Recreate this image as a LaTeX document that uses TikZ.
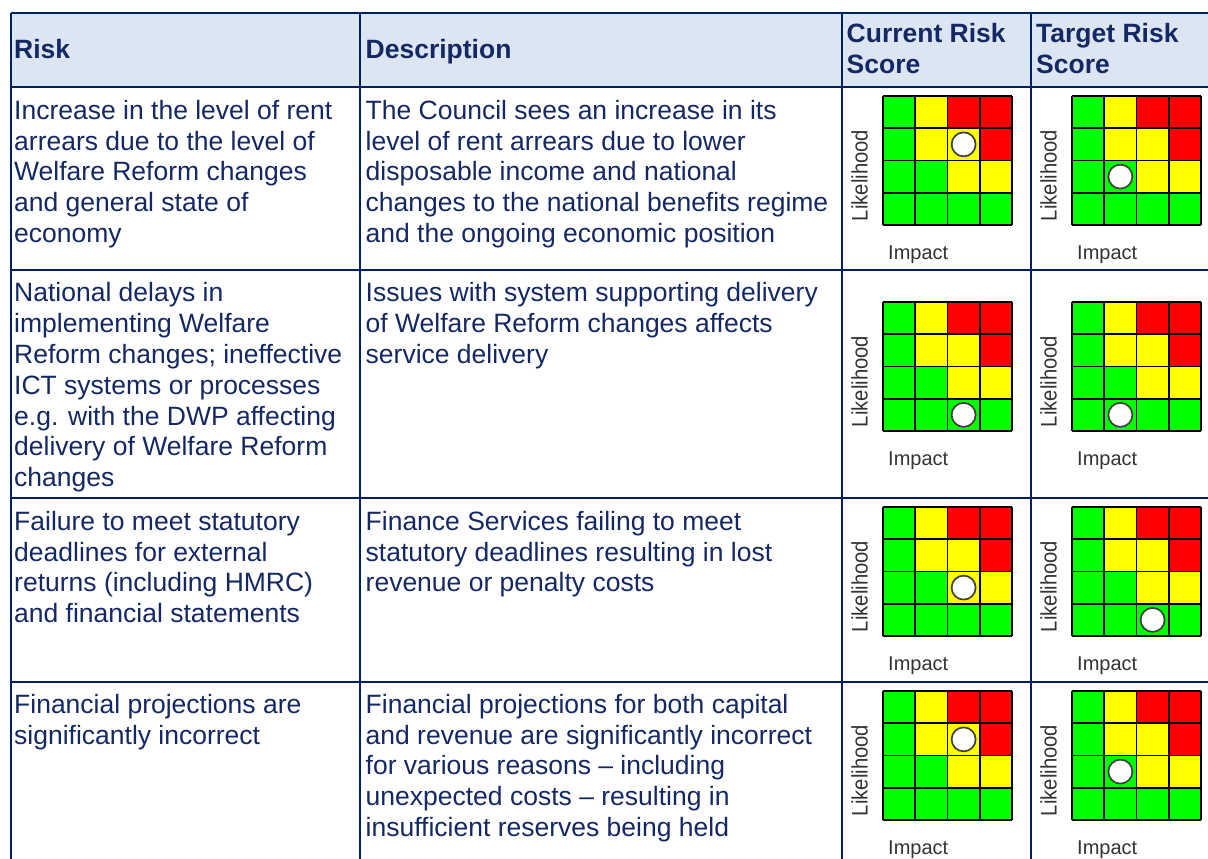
\documentclass[tikz,border=0pt]{standalone}
\usepackage{fontspec}
\setmainfont{Liberation Sans}
\definecolor{navytext}{RGB}{20,40,100}
\definecolor{navyline}{RGB}{0,32,96}
\definecolor{headfill}{RGB}{220,230,242}
\definecolor{riskg}{RGB}{0,255,0}
\definecolor{risky}{RGB}{255,255,0}
\definecolor{riskr}{RGB}{255,0,0}
\newcommand\bodyfont{\fontsize{26.5}{30.8}\selectfont}
\newcommand\headfont{\fontsize{26.5}{31}\selectfont\bfseries}
\newcommand\lblfont{\fontsize{20}{24}\selectfont}
\newcommand\likfont{\fontsize{22.5}{26}\selectfont}
\tikzset{
  txtcell/.style={anchor=north west, inner sep=0pt, align=left, text=navytext, font=\bodyfont},
  headcell/.style={txtcell, font=\headfont},
  lbl/.style={inner sep=0pt, font=\lblfont, text=black!80},
  tblline/.style={draw=navyline, line width=2.8pt},
  gridline/.style={draw=black, line width=1.8pt},
  dot/.style={circle, draw=black!75, fill=white, line width=1.7pt, minimum size=24pt, inner sep=0pt}
}
% name, gx, gy, column of dot, row of dot
\newcommand\riskgrid[5]{%
  \foreach \rr/\cols in {0/{g,y,r,r},1/{g,y,y,r},2/{g,g,y,y},3/{g,g,g,g}}{
    \foreach \clr [count=\ii from 0] in \cols {
      \fill[risk\clr] ({#2+\ii*32.25},{#3+\rr*32.25}) rectangle +(32.25,32.25);
    }
  }
  \foreach \kk in {0,...,4}{
    \draw[gridline] ({#2+\kk*32.25},#3) -- ++(0,129);
    \draw[gridline] (#2,{#3+\kk*32.25}) -- ++(129,0);
  }
  \node[dot] (#1-dot) at ({#2+(#4+0.5)*32.25},{#3+(#5+0.5)*32.25}) {};
  \node[lbl, font=\likfont, rotate=90, anchor=base] (#1-lik) at ({#2-15.5},{#3+79.5}) {\scalebox{0.9}[1]{Likelihood}};
  \node[lbl, anchor=base west] (#1-imp) at ({#2+5},{#3+163}) {Impact};
}
\begin{document}
\begin{tikzpicture}[x=1pt,y=-1pt]
\useasboundingbox (0,0) rectangle (1208,859);
\fill[white] (0,0) rectangle (1208,859);
% header fill
\fill[headfill] (11,13) rectangle (1208,87);
% table lines
\draw[tblline] (11,13) -- (1208,13);
\foreach \yy in {87,270,498,682}{\draw[tblline] (11,\yy) -- (1208,\yy);}
\foreach \xx in {11,360,842,1031}{\draw[tblline] (\xx,13) -- (\xx,859);}
% header
\node[headcell] (hrisk) at (14,37.1) {\strut Risk};
\node[headcell] (hdesc) at (365.5,37.1) {\strut Description};
\node[headcell] (hcur) at (846.5,20.6) {\strut Current Risk\\Score};
\node[headcell] (htgt) at (1036,20.6) {\strut Target Risk\\Score};
% row 1
\node[txtcell] (r1risk) at (14,97.5) {\strut Increase in the level of rent\\arrears due to the level of\\Welfare Reform changes\\and general state of\\economy};
\node[txtcell] (r1desc) at (365.5,97.5) {\strut The Council sees an increase in its\\level of rent arrears due to lower\\disposable income and national\\changes to the national benefits regime\\and the ongoing economic position};
% row 2
\node[txtcell] (r2risk) at (14,280.2) {\strut National delays in\\implementing Welfare\\Reform changes; ineffective\\ICT systems or processes\\e.g. with the DWP affecting\\delivery of Welfare Reform\\changes};
\node[txtcell] (r2desc) at (365.5,280.2) {\strut Issues with system supporting delivery\\of Welfare Reform changes affects\\service delivery};
% row 3
\node[txtcell] (r3risk) at (14,508.5) {\strut Failure to meet statutory\\deadlines for external\\returns (including HMRC)\\and financial statements};
\node[txtcell] (r3desc) at (365.5,508.5) {\strut Finance Services failing to meet\\statutory deadlines resulting in lost\\revenue or penalty costs};
% row 4
\node[txtcell] (r4risk) at (14,691.5) {\strut Financial projections are\\significantly incorrect};
\node[txtcell] (r4desc) at (365.5,691.5) {\strut Financial projections for both capital\\and revenue are significantly incorrect\\for various reasons – including\\unexpected costs – resulting in\\insufficient reserves being held};
% risk grids
\riskgrid{c1}{883}{96}{2}{1}
\riskgrid{t1}{1072}{96}{1}{2}
\riskgrid{c2}{883}{302}{2}{3}
\riskgrid{t2}{1072}{302}{1}{3}
\riskgrid{c3}{883}{507}{2}{2}
\riskgrid{t3}{1072}{507}{2}{3}
\riskgrid{c4}{883}{691}{2}{1}
\riskgrid{t4}{1072}{691}{1}{2}
\end{tikzpicture}
\end{document}
